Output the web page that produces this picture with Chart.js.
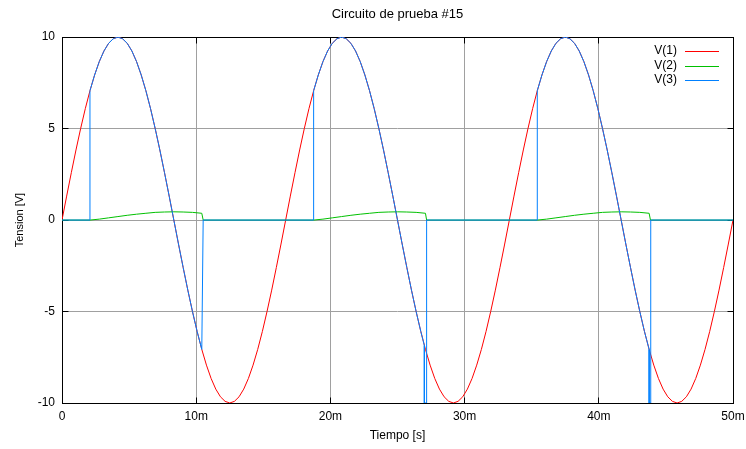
<!DOCTYPE html>
<html>
<head>
<meta charset="utf-8">
<script src="https://cdn.jsdelivr.net/npm/chart.js@4.4.1/dist/chart.umd.min.js"></script>
<style>
html,body{margin:0;padding:0;background:#fff;}
canvas{display:block;}
</style>
</head>
<body>
<canvas id="c" width="746" height="449" style="width:746px;height:449px"></canvas>
<script>
const chartTitle = 'Circuito de prueba #15';
const xAxisTitle = 'Tiempo [s]';
const yAxisTitle = 'Tension [V]';
const seriesLabels = ['V(1)', 'V(2)', 'V(3)'];
const seriesColors = ['#ff0000', '#00c000', '#0080ff'];
const xTickValues = [0, 10, 20, 30, 40, 50];
const xTickLabels = ['0', '10m', '20m', '30m', '40m', '50m'];
const yTickValues = [-10, -5, 0, 5, 10];
const yTickLabels = ['-10', '-5', '0', '5', '10'];

// time in ms
const timeMs = [
  0, 0.347, 0.694, 1.042, 1.389, 1.736, 2.083, 2.431, 2.778, 3.125, 3.472, 3.819,
  4.167, 4.514, 4.861, 5.208, 5.556, 5.903, 6.250, 6.597, 6.944, 7.292, 7.639, 7.986,
  8.333, 8.681, 9.028, 9.375, 9.722, 10.069, 10.417, 10.764, 11.111, 11.458, 11.806, 12.153,
  12.500, 12.847, 13.194, 13.542, 13.889, 14.236, 14.583, 14.931, 15.278, 15.625, 15.972, 16.319,
  16.667, 17.014, 17.361, 17.708, 18.056, 18.403, 18.750, 19.097, 19.444, 19.792, 20.139, 20.486,
  20.833, 21.181, 21.528, 21.875, 22.222, 22.569, 22.917, 23.264, 23.611, 23.958, 24.306, 24.653,
  25.000, 25.347, 25.694, 26.042, 26.389, 26.736, 27.083, 27.431, 27.778, 28.125, 28.472, 28.819,
  29.167, 29.514, 29.861, 30.208, 30.556, 30.903, 31.250, 31.597, 31.944, 32.292, 32.639, 32.986,
  33.333, 33.681, 34.028, 34.375, 34.722, 35.069, 35.417, 35.764, 36.111, 36.458, 36.806, 37.153,
  37.500, 37.847, 38.194, 38.542, 38.889, 39.236, 39.583, 39.931, 40.278, 40.625, 40.972, 41.319,
  41.667, 42.014, 42.361, 42.708, 43.056, 43.403, 43.750, 44.097, 44.444, 44.792, 45.139, 45.486,
  45.833, 46.181, 46.528, 46.875, 47.222, 47.569, 47.917, 48.264, 48.611, 48.958, 49.306, 49.653,
  50
];

const v1 = [
  0, 1.31, 2.59, 3.83, 5.00, 6.09, 7.07, 7.93, 8.66, 9.24, 9.66, 9.91,
  10.00, 9.91, 9.66, 9.24, 8.66, 7.93, 7.07, 6.09, 5.00, 3.83, 2.59, 1.31,
  0, -1.31, -2.59, -3.83, -5.00, -6.09, -7.07, -7.93, -8.66, -9.24, -9.66, -9.91,
  -10.00, -9.91, -9.66, -9.24, -8.66, -7.93, -7.07, -6.09, -5.00, -3.83, -2.59, -1.31,
  0, 1.31, 2.59, 3.83, 5.00, 6.09, 7.07, 7.93, 8.66, 9.24, 9.66, 9.91,
  10.00, 9.91, 9.66, 9.24, 8.66, 7.93, 7.07, 6.09, 5.00, 3.83, 2.59, 1.31,
  0, -1.31, -2.59, -3.83, -5.00, -6.09, -7.07, -7.93, -8.66, -9.24, -9.66, -9.91,
  -10.00, -9.91, -9.66, -9.24, -8.66, -7.93, -7.07, -6.09, -5.00, -3.83, -2.59, -1.31,
  0, 1.31, 2.59, 3.83, 5.00, 6.09, 7.07, 7.93, 8.66, 9.24, 9.66, 9.91,
  10.00, 9.91, 9.66, 9.24, 8.66, 7.93, 7.07, 6.09, 5.00, 3.83, 2.59, 1.31,
  0, -1.31, -2.59, -3.83, -5.00, -6.09, -7.07, -7.93, -8.66, -9.24, -9.66, -9.91,
  -10.00, -9.91, -9.66, -9.24, -8.66, -7.93, -7.07, -6.09, -5.00, -3.83, -2.59, -1.31,
  0
];

const v2Time = [
  0, 2.083, 2.778, 3.472, 4.167, 4.861, 5.556, 6.250, 6.944, 7.639, 8.333, 9.028, 9.722, 10.417, 10.52,
  18.750, 19.444, 20.139, 20.833, 21.528, 22.222, 22.917, 23.611, 24.306, 25.000, 25.694, 26.389, 27.083, 27.17,
  35.417, 36.111, 36.806, 37.500, 38.194, 38.889, 39.583, 40.278, 40.972, 41.667, 42.361, 43.056, 43.750, 43.85, 50
];
const v2 = [
  0, 0, 0.05, 0.12, 0.19, 0.26, 0.32, 0.37, 0.42, 0.44, 0.45, 0.44, 0.42, 0.37, 0,
  0, 0.05, 0.12, 0.19, 0.26, 0.32, 0.37, 0.42, 0.44, 0.45, 0.44, 0.42, 0.37, 0,
  0, 0.05, 0.12, 0.19, 0.26, 0.32, 0.37, 0.42, 0.44, 0.45, 0.44, 0.42, 0.37, 0, 0
];

const v3Time = [
  0, 2.083, 2.083, 2.431, 2.778, 3.125, 3.472, 3.819, 4.167, 4.514, 4.861, 5.208, 5.556, 5.903,
  6.250, 6.597, 6.944, 7.292, 7.639, 7.986, 8.333, 8.681, 9.028, 9.375, 9.722, 10.069, 10.417, 10.52,
  18.750, 18.750, 19.097, 19.444, 19.792, 20.139, 20.486, 20.833, 21.181, 21.528, 21.875, 22.222, 22.569, 22.917,
  23.264, 23.611, 23.958, 24.306, 24.653, 25.000, 25.347, 25.694, 26.042, 26.389, 26.736, 27.0, 27.0, 27.17, 27.17,
  35.417, 35.417, 35.764, 36.111, 36.458, 36.806, 37.153, 37.500, 37.847, 38.194, 38.542, 38.889, 39.236, 39.583,
  39.931, 40.278, 40.625, 40.972, 41.319, 41.667, 42.014, 42.361, 42.708, 43.056, 43.403, 43.750, 43.750, 43.87, 43.87, 50
];
const v3 = [
  0, 0, 7.07, 7.93, 8.66, 9.24, 9.66, 9.91, 10.00, 9.91, 9.66, 9.24, 8.66, 7.93,
  7.07, 6.09, 5.00, 3.83, 2.59, 1.31, 0, -1.31, -2.59, -3.83, -5.00, -6.09, -7.07, 0,
  0, 7.07, 7.93, 8.66, 9.24, 9.66, 9.91, 10.00, 9.91, 9.66, 9.24, 8.66, 7.93, 7.07,
  6.09, 5.00, 3.83, 2.59, 1.31, 0, -1.31, -2.59, -3.83, -5.00, -6.09, -6.85, -10, -10, 0,
  0, 7.07, 7.93, 8.66, 9.24, 9.66, 9.91, 10.00, 9.91, 9.66, 9.24, 8.66, 7.93, 7.07,
  6.09, 5.00, 3.83, 2.59, 1.31, 0, -1.31, -2.59, -3.83, -5.00, -6.09, -7.07, -10, -10, 0, 0
];

const FONT = "'Liberation Sans', Arial, Helvetica, sans-serif";
Chart.defaults.font.family = FONT;
Chart.defaults.color = '#000';

function alignPx(p) { return Math.round(p - 0.5) + 0.5; }

const framePlugin = {
  id: 'gnuFrame',
  beforeDatasetsDraw(chart) {
    const {ctx, chartArea: a, scales} = chart;
    const L = alignPx(a.left), R = alignPx(a.right), T = alignPx(a.top), B = alignPx(a.bottom);
    ctx.save();
    ctx.strokeStyle = '#000';
    ctx.lineWidth = 1;
    ctx.beginPath();
    xTickValues.forEach(v => {
      const X = alignPx(scales.x.getPixelForValue(v));
      ctx.moveTo(X, B); ctx.lineTo(X, B - 6);
      ctx.moveTo(X, T); ctx.lineTo(X, T + 6);
    });
    yTickValues.forEach(v => {
      const Y = alignPx(scales.y.getPixelForValue(v));
      ctx.moveTo(L, Y); ctx.lineTo(L + 6, Y);
      ctx.moveTo(R, Y); ctx.lineTo(R - 6, Y);
    });
    ctx.stroke();
    ctx.strokeRect(L, T, R - L, B - T);
    ctx.restore();
  },
  afterDatasetsDraw(chart) {
    const {ctx} = chart;
    const rows = [51, 65.5, 80];
    ctx.save();
    ctx.font = "12px " + FONT;
    ctx.textAlign = 'right';
    ctx.textBaseline = 'middle';
    chart.data.datasets.forEach((ds, i) => {
      const y = rows[i];
      ctx.fillStyle = '#000';
      ctx.fillText(ds.label, 677, y);
      ctx.strokeStyle = ds.borderColor;
      ctx.lineWidth = 1;
      ctx.beginPath();
      ctx.moveTo(685, Math.round(y) + 0.5);
      ctx.lineTo(719, Math.round(y) + 0.5);
      ctx.stroke();
    });
    ctx.restore();
  }
};

const toPts = (xs, ys) => xs.map((t, i) => ({x: t, y: ys[i]}));

new Chart(document.getElementById('c'), {
  type: 'line',
  data: {
    datasets: [
      {label: seriesLabels[0], data: toPts(timeMs, v1), borderColor: seriesColors[0], order: 3},
      {label: seriesLabels[1], data: toPts(v2Time, v2), borderColor: seriesColors[1], order: 2},
      {label: seriesLabels[2], data: toPts(v3Time, v3), borderColor: seriesColors[2], order: 1}
    ]
  },
  options: {
    responsive: false,
    animation: false,
    devicePixelRatio: 1,
    events: [],
    layout: {padding: {left: 0, right: 13, top: 0, bottom: 0}},
    elements: {
      line: {borderWidth: 1, tension: 0, fill: false},
      point: {radius: 0, hoverRadius: 0}
    },
    plugins: {
      legend: {display: false},
      tooltip: {enabled: false},
      title: {
        display: true,
        text: chartTitle,
        fullSize: false,
        color: '#000',
        font: {family: FONT, size: 13, weight: 'normal'},
        padding: {top: 7, bottom: 14.5}
      }
    },
    scales: {
      x: {
        type: 'linear',
        min: 0, max: 50,
        afterBuildTicks: s => { s.ticks = xTickValues.map(v => ({value: v})); },
        afterFit: s => { s.height = 46; s.paddingLeft = 0; s.paddingRight = 0; },
        ticks: {
          callback: (val) => { const i = xTickValues.indexOf(val); return i >= 0 ? xTickLabels[i] : ''; },
          padding: 6, maxRotation: 0, autoSkip: false, color: '#000',
          font: {family: FONT, size: 12}
        },
        grid: {color: '#a0a0a0', lineWidth: 1, drawTicks: false},
        border: {display: false},
        title: {display: true, text: xAxisTitle, color: '#000', font: {family: FONT, size: 12}, padding: {top: 0, bottom: 6}}
      },
      y: {
        type: 'linear',
        min: -10, max: 10,
        afterBuildTicks: s => { s.ticks = yTickValues.map(v => ({value: v})); },
        afterFit: s => { s.width = 62; s.paddingTop = 0; s.paddingBottom = 0; },
        ticks: {
          callback: (val) => { const i = yTickValues.indexOf(val); return i >= 0 ? yTickLabels[i] : ''; },
          padding: 7, autoSkip: false, color: '#000',
          font: {family: FONT, size: 12}
        },
        grid: {color: '#a0a0a0', lineWidth: 1, drawTicks: false},
        border: {display: false},
        title: {display: true, text: yAxisTitle, color: '#000', font: {family: FONT, size: 11}, padding: {top: 13, bottom: 0}}
      }
    }
  },
  plugins: [framePlugin]
});
</script>
</body>
</html>
